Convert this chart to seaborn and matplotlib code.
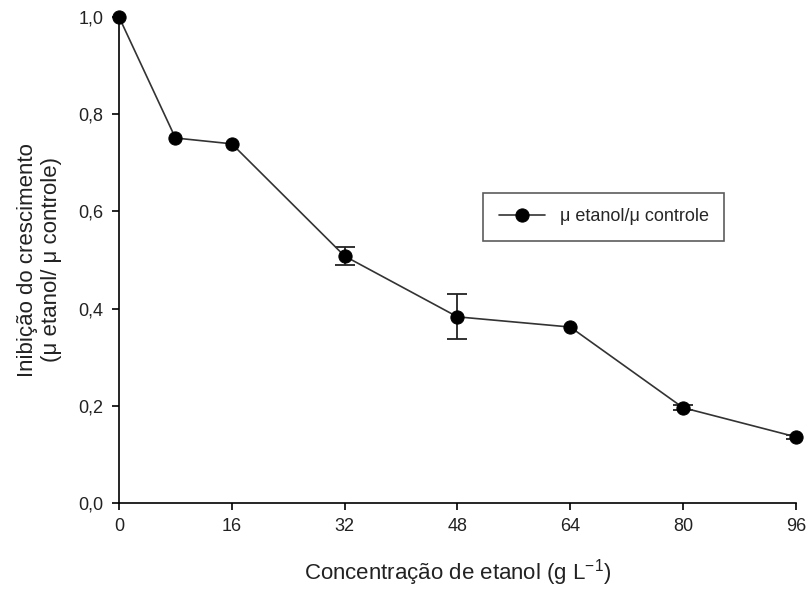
import matplotlib
matplotlib.use("Agg")
import matplotlib.pyplot as plt
import seaborn as sns
import pandas as pd

# data
concentracao = [0, 8, 16, 32, 48, 64, 80, 96]
inibicao = [1.0, 0.751, 0.739, 0.508, 0.383, 0.362, 0.196, 0.136]
erro = [0.0, 0.0, 0.0, 0.018, 0.046, 0.0, 0.005, 0.004]
x_ticks = [0, 16, 32, 48, 64, 80, 96]
y_ticks = [0.0, 0.2, 0.4, 0.6, 0.8, 1.0]

df = pd.DataFrame({"conc": concentracao, "inib": inibicao, "err": erro})
com_erro = df[df["err"] > 0]

sns.set_theme(style="ticks")
plt.rcParams["font.family"] = ["Liberation Sans", "DejaVu Sans"]
plt.rcParams["mathtext.default"] = "regular"

fig = plt.figure(figsize=(8.08, 5.9), dpi=100)
ax = fig.add_axes([0.1473, 0.1475, 0.8377, 0.8237])

ax.errorbar(com_erro["conc"], com_erro["inib"], yerr=com_erro["err"], fmt="none",
            ecolor="#222222", elinewidth=1.3, capsize=7, capthick=1.3, zorder=2)
sns.lineplot(data=df, x="conc", y="inib", ax=ax, color="#333333", linewidth=1.2,
             marker="o", markersize=9.5, markerfacecolor="black",
             markeredgecolor="black", label="μ etanol/μ controle", zorder=3,
             clip_on=False)

ax.set_xlim(0, 96)
ax.set_ylim(0, 1.0)
ax.set_xticks(x_ticks)
ax.set_yticks(y_ticks)
ax.set_yticklabels([f"{v:.1f}".replace(".", ",") for v in y_ticks])
ax.tick_params(axis="both", direction="out", length=5, width=1.2,
               labelsize=13, color="black", labelcolor="#222222", pad=6)

for s in ["top", "right"]:
    ax.spines[s].set_visible(False)
for s in ["left", "bottom"]:
    ax.spines[s].set_linewidth(1.2)
    ax.spines[s].set_color("black")

ax.set_xlabel("Concentração de etanol (g L$^{-1}$)", fontsize=16, color="#222222", labelpad=16)
ax.set_ylabel("Inibição do crescimento\n(μ etanol/ μ controle)", fontsize=16,
              color="#222222", labelpad=12)

leg = ax.legend(loc="upper left", bbox_to_anchor=(0.538, 0.638), fontsize=13,
                frameon=True, fancybox=False, borderpad=0.85, handlelength=2.6,
                borderaxespad=0)
leg.get_frame().set_edgecolor("#333333")
leg.get_frame().set_linewidth(1.2)

fig.savefig("out.png", dpi=100)
